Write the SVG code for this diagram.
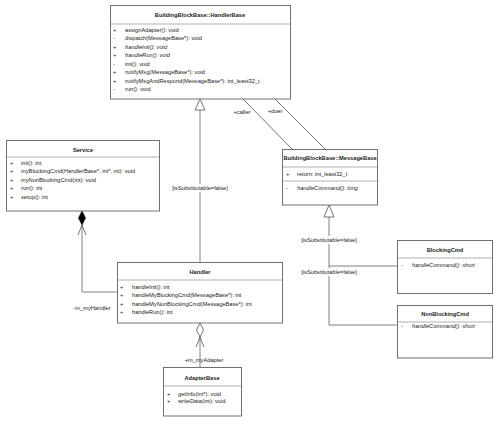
<svg xmlns="http://www.w3.org/2000/svg" width="500" height="421" viewBox="0 0 500 421">
<style>
.box{fill:#fff;stroke:#707070;stroke-width:1}
.sep{stroke:#b0b0b0;stroke-width:1}
.t{font-family:"Liberation Sans",Arial,sans-serif;font-size:5.7px;fill:#222}
.title{font-family:"Liberation Sans",Arial,sans-serif;font-size:5.7px;font-weight:bold;fill:#222;text-anchor:middle}
.i{font-style:italic}
.ln{fill:none;stroke:#808080;stroke-width:1}
.dk{fill:none;stroke:#505050;stroke-width:0.8}
.lbl{font-family:"Liberation Sans",Arial,sans-serif;font-size:5.7px;fill:#222;text-anchor:middle}
.bg{fill:#fff}
</style>
<rect width="500" height="421" fill="#fff"/>
<g id="connectors">
  <!-- HandlerBase <- Handler generalization -->
  <line class="ln" x1="200" y1="110" x2="200" y2="262"/>
  <polygon points="200,99 195,110 205,110" fill="#fff" stroke="#505050" stroke-width="0.8"/>
  <rect class="bg" x="155" y="184" width="90" height="8"/>
  <text class="lbl" x="200" y="190">[isSubstitutable=false]</text>
  <!-- caller / doer -->
  <line class="dk" x1="243" y1="99" x2="292" y2="149"/>
  <line class="dk" x1="275" y1="99" x2="325" y2="149"/>
  <text class="lbl" x="242" y="114">+caller</text>
  <text class="lbl" x="275" y="113">+doer</text>
  <!-- MessageBase <- BlockingCmd / NonBlockingCmd -->
  <line class="ln" x1="329" y1="217" x2="329" y2="325"/>
  <line class="ln" x1="329" y1="266" x2="397" y2="266"/>
  <line class="ln" x1="329" y1="325" x2="397" y2="325"/>
  <polygon points="329,205 324,217 334,217" fill="#fff" stroke="#505050" stroke-width="0.8"/>
  <rect class="bg" x="299" y="236" width="60" height="8"/>
  <text class="lbl" x="329" y="242">[isSubstitutable=false]</text>
  <rect class="bg" x="299" y="268" width="60" height="8"/>
  <text class="lbl" x="329" y="274">[isSubstitutable=false]</text>
  <!-- Service composition Handler -->
  <polyline class="ln" points="82,225 82,292 117,292"/>
  <polygon points="82,211 85.5,218 82,225 78.5,218" fill="#000" stroke="#000" stroke-width="0.6"/>
  <polyline class="dk" points="78,235 82,225 86,235"/>
  <text class="lbl" x="92" y="310">-m_myHandler</text>
  <!-- Handler aggregation AdapterBase -->
  <line class="ln" x1="200" y1="337" x2="200" y2="367"/>
  <polygon points="200,323 203.5,330 200,337 196.5,330" fill="#fff" stroke="#505050" stroke-width="0.8"/>
  <polyline class="dk" points="196,347 200,337 204,347"/>
  <text class="lbl" x="204" y="362">+m_myAdapter</text>
</g>
<g id="HandlerBase">
  <rect class="box" x="110.5" y="5.5" width="180" height="93.5"/>
  <line class="sep" x1="111" y1="24" x2="290" y2="24"/>
  <text class="title" x="200" y="17">BuildingBlockBase::HandlerBase</text>
  <text class="t" x="113" y="32">+</text><text class="t" x="125" y="32">assignAdapter(): void</text>
  <text class="t" x="113" y="40">-</text><text class="t" x="125" y="40">dispatch(MessageBase*): void</text>
  <text class="t" x="113" y="49">+</text><text class="t i" x="125" y="49">handleInit(): void</text>
  <text class="t" x="113" y="57">+</text><text class="t i" x="125" y="57">handleRun(): void</text>
  <text class="t" x="113" y="66">-</text><text class="t" x="125" y="66">init(): void</text>
  <text class="t" x="113" y="74">+</text><text class="t" x="125" y="74">notifyMsg(MessageBase*): void</text>
  <text class="t" x="113" y="83">+</text><text class="t" x="125" y="83">notifyMsgAndRespond(MessageBase*): int_least32_t</text>
  <text class="t" x="113" y="91">-</text><text class="t" x="125" y="91">run(): void</text>
</g>
<g id="Service">
  <rect class="box" x="6.5" y="140.5" width="153" height="70.5"/>
  <line class="sep" x1="7" y1="157" x2="159" y2="157"/>
  <text class="title" x="83" y="152">Service</text>
  <text class="t" x="10" y="165">+</text><text class="t" x="21" y="165">init(): int</text>
  <text class="t" x="10" y="173">+</text><text class="t" x="21" y="173">myBlockingCmd(HandlerBase*, int*, int): void</text>
  <text class="t" x="10" y="182">+</text><text class="t" x="21" y="182">myNonBlockingCmd(int): void</text>
  <text class="t" x="10" y="190">+</text><text class="t" x="21" y="190">run(): int</text>
  <text class="t" x="10" y="199">+</text><text class="t" x="21" y="199">setup(): int</text>
</g>
<g id="MessageBase">
  <rect class="box" x="282.5" y="149.5" width="95" height="55.5"/>
  <line class="sep" x1="283" y1="167" x2="377" y2="167"/>
  <line class="sep" x1="283" y1="181" x2="377" y2="181"/>
  <text class="title" x="330" y="160">BuildingBlockBase::MessageBase</text>
  <text class="t" x="286" y="176">+</text><text class="t" x="297" y="176">return: int_least32_t</text>
  <text class="t" x="286" y="190">-</text><text class="t i" x="297" y="190">handleCommand(): long</text>
</g>
<g id="Handler">
  <rect class="box" x="117.5" y="262.5" width="165" height="60.5"/>
  <line class="sep" x1="118" y1="280" x2="282" y2="280"/>
  <text class="title" x="200" y="274">Handler</text>
  <text class="t" x="120" y="289">+</text><text class="t" x="132" y="289">handleInit(): int</text>
  <text class="t" x="120" y="297">+</text><text class="t" x="132" y="297">handleMyBlockingCmd(MessageBase*): int</text>
  <text class="t" x="120" y="306">+</text><text class="t" x="132" y="306">handleMyNonBlockingCmd(MessageBase*): int</text>
  <text class="t" x="120" y="314">+</text><text class="t" x="132" y="314">handleRun(): int</text>
</g>
<g id="BlockingCmd">
  <rect class="box" x="397.5" y="240.5" width="95" height="53"/>
  <line class="sep" x1="398" y1="258" x2="492" y2="258"/>
  <text class="title" x="445" y="252">BlockingCmd</text>
  <text class="t" x="401" y="267">-</text><text class="t i" x="412" y="267">handleCommand(): short</text>
</g>
<g id="NonBlockingCmd">
  <rect class="box" x="397.5" y="305.5" width="95" height="52.5"/>
  <line class="sep" x1="398" y1="322" x2="492" y2="322"/>
  <text class="title" x="445" y="316">NonBlockingCmd</text>
  <text class="t" x="401" y="328">-</text><text class="t i" x="412" y="328">handleCommand(): short</text>
</g>
<g id="AdapterBase">
  <rect class="box" x="163.5" y="367.5" width="78" height="48.5"/>
  <line class="sep" x1="164" y1="386" x2="241" y2="386"/>
  <text class="title" x="202" y="380">AdapterBase</text>
  <text class="t" x="167" y="396">+</text><text class="t" x="178" y="396">getInfo(int*): void</text>
  <text class="t" x="167" y="403">+</text><text class="t" x="178" y="403">writeData(int): void</text>
</g>
</svg>
